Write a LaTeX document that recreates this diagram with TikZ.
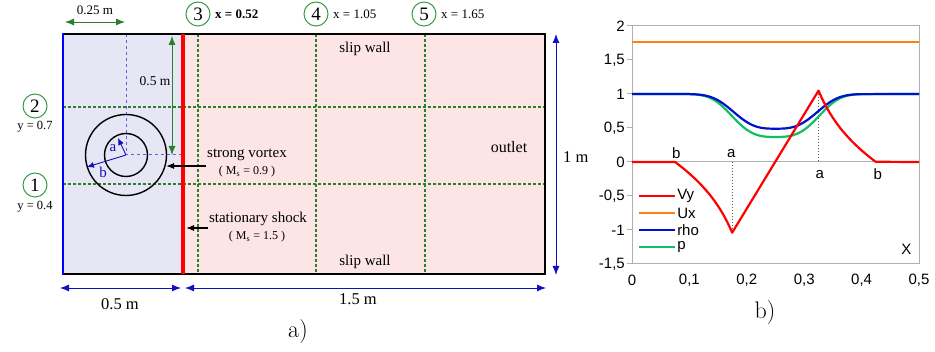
\documentclass[tikz,border=0pt]{standalone}
\usepackage{fontspec}
\newfontfamily\tnr{Liberation Serif}
\newfontfamily\plotfont{Liberation Sans}
\usetikzlibrary{arrows.meta}
\definecolor{leftfill}{HTML}{E6E6F4}
\definecolor{rightfill}{HTML}{FDE5E5}
\definecolor{gdash}{HTML}{2A802A}
\definecolor{gcirc}{HTML}{3A9A4A}
\definecolor{dimblue}{HTML}{1010C0}
\definecolor{vblue}{HTML}{6060E0}
\definecolor{cvy}{HTML}{FF0000}
\definecolor{cux}{HTML}{FF8010}
\definecolor{crho}{HTML}{0010D0}
\definecolor{cp}{HTML}{10C060}
\definecolor{framegray}{HTML}{B0B0B0}
\tikzset{
  numcirc/.style={circle, draw=gcirc, line width=1pt, minimum size=24pt, inner sep=0pt, font=\tnr\fontsize{19}{19}\selectfont},
  lbl/.style={font=\tnr\fontsize{15}{15}\selectfont, inner sep=0pt},
  sublbl/.style={font=\tnr\fontsize{12}{12}\selectfont, inner sep=0pt},
  dimlbl/.style={font=\tnr\fontsize{16.5}{16.5}\selectfont, inner sep=0pt},
  gdashline/.style={draw=gdash, line width=1.2pt, dash pattern=on 3pt off 2pt},
  vdash/.style={draw=vblue, line width=1pt, dash pattern=on 3pt off 3pt},
  dimarrow/.style={draw=dimblue, line width=0.9pt, {Latex[length=9pt,width=7pt]}-{Latex[length=9pt,width=7pt]}},
  garrow/.style={draw=gdash, line width=0.9pt, {Latex[length=9pt,width=7pt]}-{Latex[length=9pt,width=7pt]}},
  tick/.style={font=\plotfont\fontsize{15}{15}\selectfont, inner sep=0pt},
  curve/.style={line width=2.2pt, line join=round},
}
\begin{document}
\begin{tikzpicture}[x=1pt,y=-1pt]
\useasboundingbox (0,0) rectangle (935,352);
% ---------- left diagram ----------
\fill[leftfill] (63,34) rectangle (183,274);
\fill[rightfill] (183,34) rectangle (545,274);
% grid dashed lines
\draw[gdashline] (63,107) -- (545,107);
\draw[gdashline] (63,184) -- (545,184);
\draw[gdashline] (198,34) -- (198,274);
\draw[gdashline] (316,34) -- (316,274);
\draw[gdashline] (425,34) -- (425,274);
% vortex
\coordinate (vc) at (126,155);
\draw[vdash] (126,34) -- (vc) -- (183,155);
\draw[black, line width=1.4pt] (vc) circle (21.5);
\draw[black, line width=1.4pt] (vc) circle (40.5);
\draw[dimblue, line width=0.9pt, -{Latex[length=7pt,width=6pt]}] (vc) -- (118,138);
\draw[dimblue, line width=0.9pt, -{Latex[length=7pt,width=6pt]}] (vc) -- (87,167);
\node[font=\tnr\fontsize{15}{15}\selectfont, text=dimblue, inner sep=0pt] at (113,148) {a};
\node[font=\tnr\fontsize{15}{15}\selectfont, text=dimblue, inner sep=0pt] at (103,172) {b};
% boundary
\draw[black, line width=2.3pt] (63,34) -- (545,34) -- (545,274) -- (63,274);
\draw[blue, line width=2.3pt] (63,33) -- (63,275);
\draw[cvy, line width=3.6pt] (183,34) -- (183,274);
% dimension arrows
\draw[garrow] (65,22) -- (125,22);
\node[font=\tnr\fontsize{13}{13}\selectfont, inner sep=0pt] at (95,10) {0.25 m};
\draw[garrow] (172,36) -- (172,155);
\node[font=\tnr\fontsize{13.5}{13.5}\selectfont, inner sep=0pt] at (155,81) {0.5 m};
\draw[dimarrow] (60,288) -- (181,288);
\draw[dimarrow] (185,288) -- (546,288);
\draw[dimarrow] (556,34) -- (556,275);
\node[dimlbl] at (120,304) {0.5 m};
\node[dimlbl] at (358,299) {1.5 m};
\node[dimlbl, anchor=west] at (563,157) {1 m};
% circled markers
\node[numcirc] (n2) at (35,106) {2};
\node[font=\tnr\fontsize{12.5}{12.5}\selectfont, inner sep=0pt] at (35,127) {y = 0.7};
\node[numcirc] (n1) at (35,185) {1};
\node[font=\tnr\fontsize{12.5}{12.5}\selectfont, inner sep=0pt] at (35,207) {y = 0.4};
\node[numcirc] (n3) at (198,14) {3};
\node[font=\tnr\bfseries\fontsize{13}{13}\selectfont, inner sep=0pt, anchor=west] at (215,14) {x = 0.52};
\node[numcirc] (n4) at (316,14) {4};
\node[font=\tnr\fontsize{13}{13}\selectfont, inner sep=0pt, anchor=west] at (333,14) {x = 1.05};
\node[numcirc] (n5) at (424,14) {5};
\node[font=\tnr\fontsize{13}{13}\selectfont, inner sep=0pt, anchor=west] at (441,14) {x = 1.65};
% labels
\node[lbl] at (365,49) {slip wall};
\node[lbl] at (365,262) {slip wall};
\node[font=\tnr\fontsize{16}{16}\selectfont, inner sep=0pt] at (509,147) {outlet};
\node[lbl] (sv) at (247,155) {strong vortex};
\node[sublbl] at (247,172) {( M\textsubscript{s} = 0.9 )};
\coordinate (svs) at (206,166);
\coordinate (sve) at (166,166);
\draw[black, line width=1.1pt, -{Latex[length=8pt,width=6pt]}] (svs) -- (sve);
\node[lbl] (ss) at (258,219) {stationary shock};
\node[sublbl] at (257,237) {( M\textsubscript{s} = 1.5 )};
\coordinate (sss) at (208,228);
\coordinate (sse) at (186,228);
\draw[black, line width=1.1pt, -{Latex[length=8pt,width=6pt]}] (sss) -- (sse);
\node[font=\fontsize{24}{24}\selectfont, inner sep=0pt] at (298,332) {a)};
% ---------- right plot ----------
\begin{scope}[shift={(632,162)}, x=574pt, y=68pt]
  \draw[framegray, line width=1pt] (0,0) -- (0.5,0);
  \draw[framegray, line width=1pt] (0,2) rectangle (0.5,-1.5);
  \foreach \v/\t in {2/2,1.5/{1,5},1/1,0.5/{0,5},0/0,-0.5/{-0,5},-1/-1,-1.5/{-1,5}} {
    \draw[framegray, line width=1pt] (0,\v) -- ++(-5pt,0);
    \node[tick, anchor=east] at ([xshift=-7pt]0,\v) {\t};
  }
  \foreach \v/\t in {0/0,0.1/{0,1},0.2/{0,2},0.3/{0,3},0.4/{0,4},0.5/{0,5}} {
    \node[tick] at ([yshift=-16pt]\v,-1.5) {\t};
  }
  % dotted guides
  \draw[gray!70!black, line width=0.9pt, dash pattern=on 1.5pt off 1.5pt] (0.175,0) -- (0.175,-1.05);
  \draw[gray!70!black, line width=0.9pt, dash pattern=on 1.5pt off 1.5pt] (0.325,1.05) -- (0.325,0);
  % Ux
  \draw[cux, curve] (0,1.77) -- (0.5,1.77);
  % p
  \draw[cp, curve] (0,1) -- (0.1,1) -- plot[domain=0.1:0.4, samples=121, smooth] (\x, {(1-0.51*exp(-(abs(\x-0.25)/0.0839)^3))^1.4}) -- (0.5,1);
  % rho
  \draw[crho, curve] (0,1) -- (0.1,1) -- plot[domain=0.1:0.4, samples=121, smooth] (\x, {1-0.51*exp(-(abs(\x-0.25)/0.0839)^3)}) -- (0.5,1);
  % Vy
  \draw[cvy, curve] (0,0) -- (0.075,0)
    -- plot[domain=0.075:0.175, samples=41, smooth] (\x, {3.15*((0.25-\x) - 0.030625/(0.25-\x))})
    -- (0.325,1.05)
    -- plot[domain=0.325:0.425, samples=41, smooth] (\x, {-3.15*((\x-0.25) - 0.030625/(\x-0.25))})
    -- (0.5,0);
  % a, b labels
  \node[tick] at (0.077,0.13) {b};
  \node[tick] at (0.173,0.13) {a};
  \node[tick] at (0.327,-0.18) {a};
  \node[tick] at (0.428,-0.18) {b};
  \node[tick] at (0.478,-1.29) {X};
  % legend
  \foreach \c/\t/\yy in {cvy/Vy/-0.5, cux/Ux/-0.75, crho/rho/-1.0, cp/p/-1.25} {
    \draw[\c, curve] (0.013,\yy) -- (0.075,\yy);
    \node[tick, anchor=west] at ([xshift=2pt]0.075,\yy) {\t};
  }
\end{scope}
\node[font=\fontsize{24}{24}\selectfont, inner sep=0pt] at (765,313) {b)};
\end{tikzpicture}
\end{document}
